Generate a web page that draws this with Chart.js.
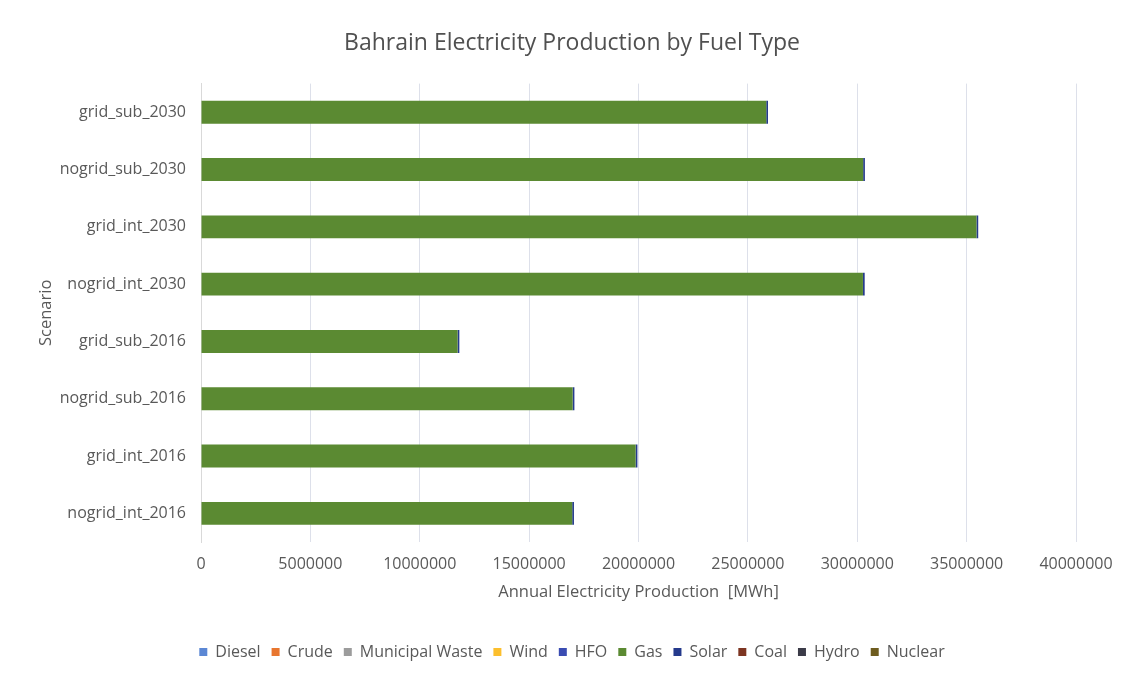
<!DOCTYPE html>
<html>
<head>
<meta charset="utf-8">
<title>Bahrain Electricity Production by Fuel Type</title>
<script src="https://cdn.jsdelivr.net/npm/chart.js@4/dist/chart.umd.min.js"></script>
<style>
  html, body { margin: 0; padding: 0; background: #ffffff; }
  #wrap { width: 1129px; height: 680px; position: relative; }
</style>
</head>
<body>
<div id="wrap"><canvas id="chart" width="1129" height="680"></canvas></div>
<script>
// Scenarios, top to bottom
const scenarios = [
  'grid_sub_2030', 'nogrid_sub_2030', 'grid_int_2030', 'nogrid_int_2030',
  'grid_sub_2016', 'nogrid_sub_2016', 'grid_int_2016', 'nogrid_int_2016'
];

// Annual production per fuel [MWh]
const diesel         = [0, 0, 0, 0, 0, 0, 0, 0];
const crude          = [0, 0, 0, 0, 0, 0, 0, 0];
const municipalWaste = [0, 0, 0, 0, 0, 0, 0, 0];
const wind           = [0, 0, 0, 0, 0, 0, 0, 0];
const hfo            = [0, 0, 0, 0, 0, 0, 0, 0];
const gas            = [25840000, 30270000, 35450000, 30260000, 11730000, 16990000, 19870000, 16970000];
const solar          = [80000, 80000, 80000, 80000, 80000, 80000, 80000, 80000];
const coal           = [0, 0, 0, 0, 0, 0, 0, 0];
const hydro          = [0, 0, 0, 0, 0, 0, 0, 0];
const nuclear        = [0, 0, 0, 0, 0, 0, 0, 0];

const fuelNames = ['Diesel', 'Crude', 'Municipal Waste', 'Wind', 'HFO', 'Gas', 'Solar', 'Coal', 'Hydro', 'Nuclear'];
const fuelValues = [diesel, crude, municipalWaste, wind, hfo, gas, solar, coal, hydro, nuclear];
const fuelColors = ['#5b87d4', '#e8762f', '#9c9c9c', '#fcbf2d', '#3a4cb2', '#5b8a32', '#253a8c', '#7d3522', '#3b3b48', '#6e5c1f'];

// Axis tick values
const xTicks = [0, 5000000, 10000000, 15000000, 20000000, 25000000, 30000000, 35000000, 40000000];

const textColor = '#595959';
const fontFamily = '"Open Sans", Lato, sans-serif';

const datasets = fuelNames.map((name, i) => ({
  label: name,
  data: fuelValues[i],
  backgroundColor: fuelColors[i],
  borderWidth: 0,
  barPercentage: 0.4,
  categoryPercentage: 1.0
}));

new Chart(document.getElementById('chart'), {
  type: 'bar',
  data: { labels: scenarios, datasets },
  options: {
    indexAxis: 'y',
    responsive: false,
    animation: false,
    devicePixelRatio: 1,
    layout: { padding: { left: 30, right: 15, top: 0, bottom: 10 } },
    plugins: {
      title: {
        display: true,
        text: 'Bahrain Electricity Production by Fuel Type',
        color: '#505050',
        font: { family: fontFamily, size: 23, weight: 'normal' },
        padding: { top: 30, bottom: 26 }
      },
      legend: {
        position: 'bottom',
        labels: {
          color: textColor,
          font: { family: fontFamily, size: 16 },
          boxWidth: 8,
          boxHeight: 8,
          padding: 11
        }
      },
      tooltip: { enabled: false }
    },
    scales: {
      x: {
        stacked: true,
        min: 0,
        max: 40000000,
        afterBuildTicks: s => { s.ticks = xTicks.map(v => ({ value: v })); },
        afterFit: s => { s.height = 91; },
        ticks: {
          color: textColor,
          font: { family: fontFamily, size: 16 },
          padding: 13,
          maxRotation: 0,
          callback: v => String(v)
        },
        grid: { color: '#dde0ea', lineWidth: 1, drawTicks: false },
        border: { display: false },
        title: {
          display: true,
          text: 'Annual Electricity Production  [MWh]',
          color: textColor,
          font: { family: fontFamily, size: 16.5 },
          padding: { top: 4, bottom: 31 }
        }
      },
      y: {
        stacked: true,
        afterFit: s => { s.width = 171; },
        ticks: {
          color: textColor,
          font: { family: fontFamily, size: 16 },
          padding: 15
        },
        grid: { display: false, drawTicks: false },
        border: { display: true, color: '#d9d9d9', width: 1 },
        title: {
          display: true,
          text: 'Scenario',
          color: textColor,
          font: { family: fontFamily, size: 16.5 },
          padding: { top: 6, bottom: 0 }
        }
      },
      // empty right-hand spacer keeping the plot area clear of the right margin
      spacer: {
        type: 'category',
        position: 'right',
        afterFit: s => { s.width = 38; },
        ticks: { display: false },
        grid: { display: false, drawTicks: false },
        border: { display: false }
      }
    }
  }
});
</script>
</body>
</html>
